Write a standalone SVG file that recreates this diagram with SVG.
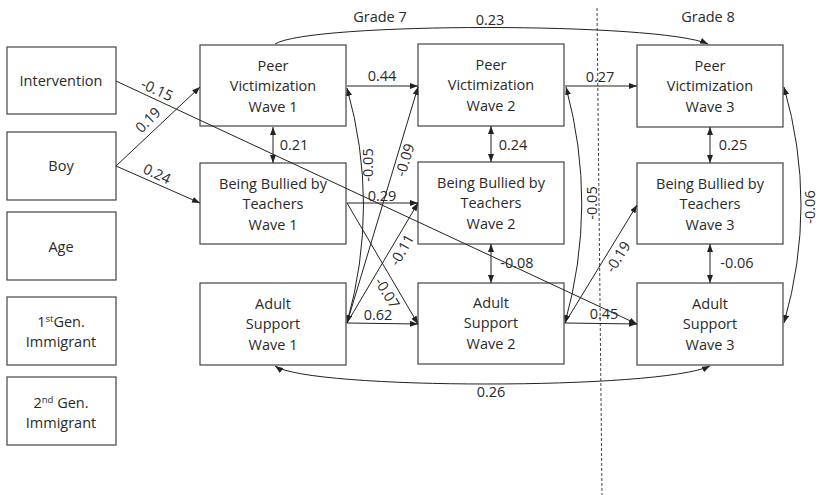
<svg xmlns="http://www.w3.org/2000/svg" width="820" height="495" viewBox="0 0 820 495">
<defs>
<marker id="ah" viewBox="0 0 8 6" refX="8" refY="3" markerWidth="8" markerHeight="6" markerUnits="userSpaceOnUse" orient="auto-start-reverse"><path d="M0,0 L8,3 L0,6 Z" fill="#222"/></marker>
<style>
.box{fill:#fff;stroke:#444;stroke-width:1.2}
text{font-family:"Open Sans","Noto Sans",sans-serif;font-size:14.5px;fill:#2a2a2a;text-anchor:middle}
.c path,.c line{fill:none;stroke:#222;stroke-width:1}
.one{marker-end:url(#ah)}
.two{marker-start:url(#ah);marker-end:url(#ah)}
</style>
</defs>
<rect width="820" height="495" fill="#fff"/>
<line x1="597" y1="8" x2="602" y2="495" stroke="#444" stroke-width="1" stroke-dasharray="3,2"/>
<text x="380" y="22">Grade 7</text>
<text x="708" y="22">Grade 8</text>

<g id="intervention"><rect class="box" x="7" y="47" width="109" height="67"/><text x="61" y="86">Intervention</text></g>
<g id="boy"><rect class="box" x="7" y="132" width="109" height="68"/><text x="61" y="171">Boy</text></g>
<g id="age"><rect class="box" x="7" y="212" width="109" height="68"/><text x="61" y="252">Age</text></g>
<g id="gen1"><rect class="box" x="7" y="297" width="109" height="68"/><text x="61" y="327">1<tspan font-size="9.5" dy="-5">st</tspan><tspan dy="5">Gen.</tspan></text><text x="61" y="347">Immigrant</text></g>
<g id="gen2"><rect class="box" x="7" y="377" width="109" height="68"/><text x="61" y="408">2<tspan font-size="9.5" dy="-5">nd</tspan><tspan dy="5"> Gen.</tspan></text><text x="61" y="428">Immigrant</text></g>

<g id="pv1"><rect class="box" x="200" y="45" width="146" height="81"/><text x="273" y="71">Peer</text><text x="273" y="91">Victimization</text><text x="273" y="112">Wave 1</text></g>
<g id="bb1"><rect class="box" x="200" y="163" width="146" height="81"/><text x="273" y="189">Being Bullied by</text><text x="273" y="209">Teachers</text><text x="273" y="230">Wave 1</text></g>
<g id="as1"><rect class="box" x="200" y="283" width="146" height="82"/><text x="273" y="309">Adult</text><text x="273" y="329">Support</text><text x="273" y="350">Wave 1</text></g>

<g id="pv2"><rect class="box" x="418" y="44" width="146" height="82"/><text x="491" y="70">Peer</text><text x="491" y="90">Victimization</text><text x="491" y="111">Wave 2</text></g>
<g id="bb2"><rect class="box" x="418" y="162" width="146" height="82"/><text x="491" y="188">Being Bullied by</text><text x="491" y="208">Teachers</text><text x="491" y="229">Wave 2</text></g>
<g id="as2"><rect class="box" x="418" y="283" width="146" height="81"/><text x="491" y="308">Adult</text><text x="491" y="328">Support</text><text x="491" y="349">Wave 2</text></g>

<g id="pv3"><rect class="box" x="637" y="45" width="146" height="82"/><text x="710" y="71">Peer</text><text x="710" y="91">Victimization</text><text x="710" y="112">Wave 3</text></g>
<g id="bb3"><rect class="box" x="637" y="163" width="146" height="81"/><text x="710" y="189">Being Bullied by</text><text x="710" y="209">Teachers</text><text x="710" y="230">Wave 3</text></g>
<g id="as3"><rect class="box" x="637" y="283" width="146" height="82"/><text x="710" y="309">Adult</text><text x="710" y="329">Support</text><text x="710" y="350">Wave 3</text></g>

<g id="connectors" class="c">
<line class="one" x1="116" y1="81" x2="637" y2="324"/>
<line class="one" x1="116" y1="166" x2="200" y2="87"/>
<line class="one" x1="116" y1="166" x2="200" y2="203"/>
<line class="one" x1="347" y1="86" x2="418" y2="86"/>
<line class="two" x1="273" y1="127" x2="273" y2="163"/>
<line class="one" x1="347" y1="203" x2="418" y2="203"/>
<line class="one" x1="347" y1="203" x2="418" y2="324"/>
<line class="one" x1="347" y1="323" x2="418" y2="324"/>
<line class="one" x1="347" y1="323" x2="418" y2="87"/>
<line class="one" x1="347" y1="323" x2="418" y2="203"/>
<path class="two" d="M347,323 Q380,205 347,88"/>
<line class="two" x1="491" y1="126" x2="491" y2="162"/>
<line class="two" x1="491" y1="244" x2="491" y2="283"/>
<line class="one" x1="565" y1="86" x2="637" y2="86"/>
<path class="two" d="M565,323 Q598,205 566,87"/>
<line class="one" x1="565" y1="323" x2="637" y2="205"/>
<line class="one" x1="565" y1="323" x2="637" y2="324"/>
<line class="two" x1="710" y1="127" x2="710" y2="163"/>
<line class="two" x1="710" y1="244" x2="710" y2="283"/>
<path class="two" d="M784,323 Q818,205 784,87"/>
<path class="two" d="M275,366 C310,390 660,390 710,366"/>
<path class="one" d="M275,44 C310,22 660,22 708,44"/>
</g>

<g id="labels">
<text x="490" y="25">0.23</text>
<text x="600" y="82">0.27</text>
<text x="382" y="81">0.44</text>
<text x="294" y="150">0.21</text>
<text x="513" y="150">0.24</text>
<text x="733" y="150">0.25</text>
<text transform="translate(157,90) rotate(25)" y="5">-0.15</text>
<text transform="translate(148,120) rotate(-45)" y="5">0.19</text>
<text transform="translate(157,174) rotate(25)" y="5">0.24</text>
<text x="382" y="201">0.29</text>
<text transform="translate(368,165) rotate(-90)" y="5">-0.05</text>
<text transform="translate(405,160) rotate(-73)" y="5">-0.09</text>
<text transform="translate(402,250) rotate(-60)" y="5">-0.11</text>
<text transform="translate(387,293) rotate(58)" y="5">-0.07</text>
<text x="378" y="320">0.62</text>
<text x="517" y="268">-0.08</text>
<text x="737" y="268">-0.06</text>
<text x="604" y="319">0.45</text>
<text x="491" y="397">0.26</text>
<text transform="translate(592,203) rotate(-90)" y="5">-0.05</text>
<text transform="translate(618,257) rotate(-58)" y="5">-0.19</text>
<text transform="translate(810,207) rotate(-90)" y="5">-0.06</text>
</g>
</svg>
